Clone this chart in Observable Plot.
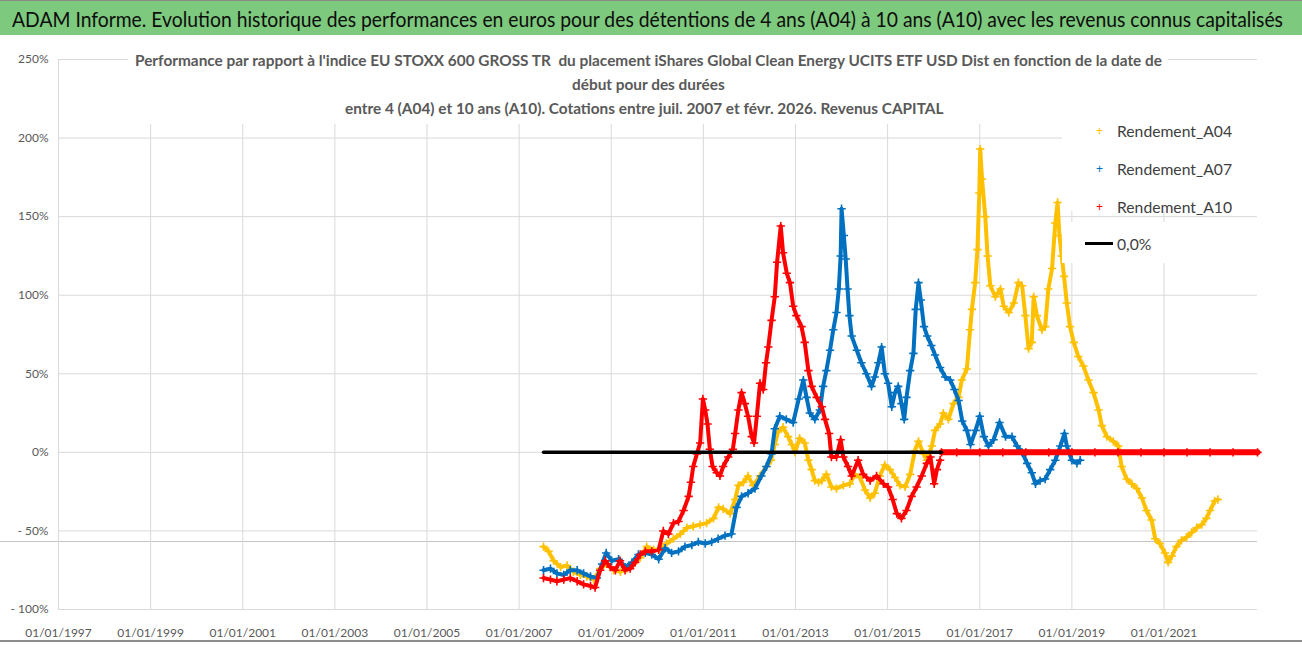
<!DOCTYPE html>
<html><head><meta charset="utf-8">
<script src="https://cdn.jsdelivr.net/npm/d3@7"></script>
<script src="https://cdn.jsdelivr.net/npm/@observablehq/plot@0.6"></script>
<style>
body{margin:0;background:#fff;}
#wrap{position:relative;width:1302px;height:647px;overflow:hidden;background:#fff;font-family:Lato,"Liberation Sans",Arial,sans-serif;}
#title{position:relative;width:1302px;height:35px;background:#7dc97d;border-top:1px solid #8a8a8a;box-sizing:border-box;}
.fit{position:absolute;white-space:nowrap;transform-origin:0 50%;line-height:1;}
#title .fit{font-family:Lato,"Liberation Sans",sans-serif;font-size:21px;color:#0d0d0d;}
#chart svg{display:block;position:relative;z-index:1;}
.box{position:absolute;background:#fff;z-index:2;}
.sub{font-family:Lato,"Liberation Sans",sans-serif;font-weight:bold;font-size:16px;color:#595959;z-index:3;}
.leg{font-family:Lato,"Liberation Sans",Arial,sans-serif;font-size:16px;color:#404040;z-index:3;}
.mk{position:absolute;z-index:3;font-family:"Liberation Sans",Arial,sans-serif;font-size:12px;line-height:1;}
#extra{position:absolute;left:0;top:541px;width:1257px;height:1px;background:#c4c4c4;z-index:0;}
#bottom{position:absolute;left:0;top:640px;width:1302px;height:2px;background:#8c8c8c;z-index:3;}
</style></head>
<body>
<div id="wrap">
  <div id="title"><span class="fit" id="t1" style="top:7px">ADAM Informe. Evolution historique des performances en euros pour des détentions de 4 ans (A04) à 10 ans (A10) avec les revenus connus capitalisés</span></div>
  <div id="extra"></div>
  <div id="chart"></div>
  <div class="box" style="left:128px;top:45px;width:1040px;height:79px;"></div>
  <div class="box" style="left:1062px;top:112px;width:240px;height:99px;"></div>
  <div class="box" style="left:1062px;top:222px;width:240px;height:41px;"></div>
  <span class="fit sub" id="s1" style="top:52px">Performance par rapport à l'indice EU STOXX 600 GROSS TR&nbsp; du placement iShares Global Clean Energy UCITS ETF USD Dist en fonction de la date de</span>
  <span class="fit sub" id="s2" style="top:76px">début pour des durées</span>
  <span class="fit sub" id="s3" style="top:100px">entre 4 (A04) et 10 ans (A10). Cotations entre juil. 2007 et févr. 2026. Revenus CAPITAL</span>
  <span class="mk" style="left:1096px;top:125px;color:#FFC000">+</span>
  <span class="mk" style="left:1096px;top:163px;color:#0070C0">+</span>
  <span class="mk" style="left:1096px;top:201px;color:#FF0000">+</span>
  <div class="mk" style="left:1085px;top:242px;width:28px;height:3px;background:#000"></div>
  <span class="fit leg" id="l1" style="left:1117px;top:123px">Rendement_A04</span>
  <span class="fit leg" id="l2" style="left:1117px;top:161px">Rendement_A07</span>
  <span class="fit leg" id="l3" style="left:1117px;top:199px">Rendement_A10</span>
  <span class="fit leg" id="l4" style="left:1117px;top:236px">0,0%</span>
  <div id="bottom"></div>
</div>
<script>
// ---------- data (decimal year of start date, performance in %) ----------
const a04Dates = [2007.53,2007.64,2007.75,2007.90,2008.04,2008.18,2008.33,2008.47,2008.62,2008.76,2008.90,2009.05,2009.20,2009.34,2009.48,2009.63,2009.77,2009.92,2010.06,2010.20,2010.35,2010.50,2010.64,2010.78,2010.93,2011.07,2011.22,2011.33,2011.43,2011.58,2011.69,2011.76,2011.87,2011.97,2012.08,2012.23,2012.37,2012.47,2012.55,2012.62,2012.73,2012.84,2012.92,2012.99,2013.09,2013.20,2013.28,2013.35,2013.42,2013.50,2013.57,2013.67,2013.78,2013.89,2014.04,2014.18,2014.29,2014.40,2014.51,2014.62,2014.72,2014.83,2014.94,2015.05,2015.16,2015.27,2015.38,2015.49,2015.59,2015.67,2015.78,2015.85,2015.96,2016.03,2016.14,2016.21,2016.32,2016.43,2016.54,2016.61,2016.72,2016.79,2016.83,2016.90,2016.95,2016.99,2017.01,2017.05,2017.12,2017.17,2017.23,2017.34,2017.45,2017.52,2017.63,2017.74,2017.84,2017.92,2017.99,2018.06,2018.13,2018.17,2018.24,2018.35,2018.42,2018.49,2018.57,2018.64,2018.69,2018.73,2018.78,2018.83,2018.89,2018.96,2019.04,2019.14,2019.25,2019.36,2019.47,2019.58,2019.65,2019.76,2019.90,2020.01,2020.08,2020.19,2020.30,2020.41,2020.52,2020.62,2020.73,2020.81,2020.91,2021.02,2021.09,2021.17,2021.27,2021.38,2021.49,2021.60,2021.71,2021.82,2021.92,2022.00,2022.10,2022.17];
const a04Values = [-60,-63,-69,-73,-72,-76,-78,-79,-81,-74,-71,-75,-76,-74,-71,-67,-60,-62,-62,-58,-55,-52,-48,-47,-46,-45,-42,-35,-36,-39,-30,-21,-19,-15,-21,-15,-9,-5,5,13,16,10,5,0,9,6,-5,-11,-18,-19,-18,-14,-22,-23,-21,-20,-14,-16,-24,-29,-26,-15,-8,-11,-16,-21,-22,-14,1,7,-1,-5,4,14,18,25,21,31,35,46,53,78,91,108,129,165,193,174,150,125,106,99,104,93,89,95,108,106,87,66,70,99,87,78,80,104,117,146,159,138,125,112,95,80,70,61,55,46,38,27,17,10,7,4,-9,-17,-20,-23,-29,-37,-43,-55,-58,-64,-70,-66,-60,-56,-54,-51,-48,-46,-42,-37,-31,-30];

const a07Dates = [2007.53,2007.68,2007.82,2007.97,2008.11,2008.26,2008.40,2008.55,2008.69,2008.80,2008.89,2009.01,2009.16,2009.30,2009.45,2009.59,2009.74,2009.88,2010.03,2010.17,2010.31,2010.46,2010.60,2010.75,2010.89,2011.04,2011.18,2011.32,2011.47,2011.61,2011.72,2011.83,2011.97,2012.12,2012.26,2012.37,2012.48,2012.55,2012.66,2012.80,2012.95,2013.07,2013.17,2013.24,2013.31,2013.42,2013.53,2013.60,2013.67,2013.75,2013.82,2013.89,2013.94,2013.98,2014.00,2014.05,2014.09,2014.13,2014.17,2014.22,2014.33,2014.43,2014.54,2014.65,2014.72,2014.80,2014.87,2014.94,2015.01,2015.09,2015.16,2015.23,2015.30,2015.36,2015.41,2015.49,2015.56,2015.61,2015.67,2015.72,2015.79,2015.86,2015.95,2016.03,2016.14,2016.25,2016.36,2016.45,2016.54,2016.62,2016.72,2016.80,2016.91,2017.00,2017.09,2017.19,2017.30,2017.43,2017.56,2017.70,2017.81,2017.92,2018.03,2018.13,2018.21,2018.31,2018.42,2018.53,2018.64,2018.75,2018.84,2018.89,2019.00,2019.11,2019.18];
const a07Values = [-75,-74,-77,-78,-75,-75,-77,-79,-80,-71,-64,-69,-68,-73,-70,-65,-64,-65,-68,-61,-64,-63,-60,-59,-57,-58,-57,-55,-53,-52,-35,-28,-26,-23,-15,-9,-1,15,23,21,19,34,46,35,25,21,27,42,52,65,78,89,104,125,155,138,123,104,87,74,65,57,50,42,48,57,67,50,44,29,38,42,31,21,35,52,63,91,108,97,80,74,68,62,54,48,46,40,33,20,14,5,14,23,10,4,8,19,10,10,4,0,-7,-13,-20,-18,-17,-11,-5,4,12,4,-5,-7,-5];

const a10Dates = [2007.53,2007.68,2007.82,2007.97,2008.11,2008.26,2008.40,2008.55,2008.65,2008.76,2008.87,2008.98,2009.09,2009.19,2009.30,2009.41,2009.52,2009.63,2009.74,2009.88,2010.03,2010.13,2010.24,2010.35,2010.46,2010.57,2010.68,2010.73,2010.78,2010.86,2010.93,2010.99,2011.04,2011.09,2011.14,2011.20,2011.29,2011.36,2011.43,2011.54,2011.64,2011.69,2011.76,2011.83,2011.90,2011.97,2012.05,2012.10,2012.16,2012.23,2012.30,2012.36,2012.41,2012.48,2012.55,2012.60,2012.68,2012.73,2012.81,2012.88,2012.95,2013.02,2013.13,2013.20,2013.28,2013.35,2013.46,2013.57,2013.64,2013.73,2013.78,2013.89,2013.98,2014.04,2014.14,2014.22,2014.36,2014.47,2014.62,2014.76,2014.91,2015.01,2015.11,2015.20,2015.30,2015.41,2015.52,2015.63,2015.74,2015.85,2015.93,2016.01,2016.07,2016.14,
  2016.17,2016.5,2017.0,2017.5,2018.0,2018.5,2019.0,2019.5,2020.0,2020.5,2021.0,2021.5,2022.0,2022.5,2023.03];
const a10Values = [-80,-81,-82,-81,-80,-82,-84,-85,-86,-75,-69,-73,-75,-69,-75,-74,-70,-65,-63,-63,-62,-50,-52,-45,-44,-37,-28,-19,-9,-1,6,34,27,18,2,-9,-13,-15,-9,-3,2,12,27,38,31,23,10,6,23,44,40,57,67,84,99,121,144,127,114,108,93,87,80,70,52,42,35,29,21,12,-3,-3,8,-3,-9,-15,-5,-14,-18,-15,-20,-22,-30,-39,-42,-37,-28,-22,-15,-7,-3,-20,-11,-5,
  0,0,0,0,0,0,0,0,0,0,0,0,0,0,0];

const zeroDates = [2007.53, 2016.17];
const zeroValues = [0, 0];

const seriesNames = ["Rendement_A04","Rendement_A07","Rendement_A10"];
const seriesColors = ["#FFC000","#0070C0","#FF0000"];
const xTickYears = [1997,1999,2001,2003,2005,2007,2009,2011,2013,2015,2017,2019,2021];
const yTickValues = [-100,-50,0,50,100,150,200,250];

// ---------- build tables ----------
const toRows = (dates, values, s) => dates.map((d, i) => ({date: d, value: values[i], series: s}));
const rows = [
  toRows(a04Dates, a04Values, seriesNames[0]),
  toRows(a07Dates, a07Values, seriesNames[1]),
  toRows(a10Dates, a10Values, seriesNames[2])
];
const zeroRows = toRows(zeroDates, zeroValues, "0,0%");
const a10Flat = rows[2].filter(d => d.value === 0 && d.date >= 2016.17);

const seriesMarks = rows.flatMap((r, i) => [
  Plot.line(r.filter(d => !(i === 2 && d.date >= 2016.17)), {x: "date", y: "value", stroke: seriesColors[i], strokeWidth: 4, strokeLinejoin: "round"}),
  Plot.dot(r, {x: "date", y: "value", symbol: "plus", r: 2.8, stroke: seriesColors[i], strokeWidth: 1.6})
]);

const chart = Plot.plot({
  width: 1302, height: 612,
  marginLeft: 58, marginRight: 45, marginTop: 24, marginBottom: 38,
  style: {background: "transparent", fontFamily: "Lato, 'Liberation Sans', Arial, sans-serif", fontSize: "12px", color: "#595959"},
  x: {type: "linear", domain: [1997, 2023.03], ticks: xTickYears, tickFormat: d => `01/01/${d}`, tickSize: 0, tickPadding: 19, label: null},
  y: {domain: [-100, 250], ticks: yTickValues, tickFormat: v => v < 0 ? `- ${-v}%` : `${v}%`, tickSize: 0, tickPadding: 10, label: null},
  marks: [
    Plot.ruleY(yTickValues, {stroke: "#d9d9d9", strokeWidth: 1}),
    Plot.ruleX(xTickYears, {stroke: "#d9d9d9", strokeWidth: 1}),
    ...seriesMarks,
    Plot.line(a10Flat, {x: "date", y: "value", stroke: seriesColors[2], strokeWidth: 6}),
    Plot.line(zeroRows, {x: "date", y: "value", stroke: "#000", strokeWidth: 3.5})
  ]
});
document.getElementById("chart").appendChild(chart);

// ---------- fit text to reference widths ----------
function fitTo(el, left, width) {
  el.style.transform = "none";
  const w = el.getBoundingClientRect().width;
  el.style.left = left + "px";
  el.style.transform = `scaleX(${width / w})`;
  return width / w;
}
function fitCenter(el, cx, scale) {
  el.style.transform = "none";
  const w = el.getBoundingClientRect().width * scale;
  el.style.left = (cx - w / 2) + "px";
  el.style.transform = `scaleX(${scale})`;
}
function layout() {
  fitTo(document.getElementById("t1"), 12, 1271);
  const s = fitTo(document.getElementById("s1"), 135, 1027);
  fitCenter(document.getElementById("s2"), 648, s);
  fitCenter(document.getElementById("s3"), 644, s);
  const ls = fitTo(document.getElementById("l1"), 1117, 115);
  ["l2","l3","l4"].forEach(id => { const e = document.getElementById(id); e.style.transform = `scaleX(${ls})`; });
}
layout();
if (document.fonts && document.fonts.ready) document.fonts.ready.then(layout);
</script>
</body></html>
